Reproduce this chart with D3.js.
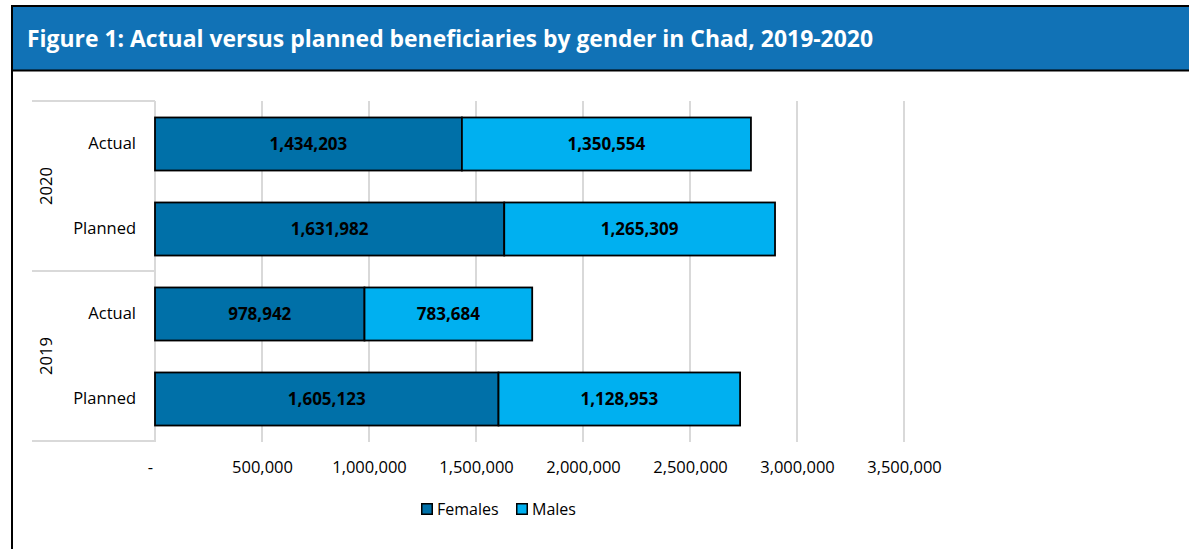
<!DOCTYPE html>
<html>
<head>
<meta charset="utf-8">
<script src="https://cdn.jsdelivr.net/npm/d3@7"></script>
<style>
  html, body { margin: 0; padding: 0; background: #fff; }
  svg { display: block; }
  text { font-family: "Open Sans", "Noto Sans", sans-serif; }
</style>
</head>
<body>
<svg id="chart" width="1189" height="549"></svg>
<script>
// ---- data ----
const titleText = "Figure 1: Actual versus planned beneficiaries by gender in Chad, 2019-2020";
const rowLabels = ["Actual", "Planned", "Actual", "Planned"];
const rowYears = ["2020", "2020", "2019", "2019"];
const years = ["2020", "2019"];
const females = [1434203, 1631982, 978942, 1605123];
const males = [1350554, 1265309, 783684, 1128953];
const seriesNames = ["Females", "Males"];
const seriesColors = ["#0070a8", "#00b0f0"];
const tickValues = [0, 500000, 1000000, 1500000, 2000000, 2500000, 3000000, 3500000];
const tickLabels = ["-", "500,000", "1,000,000", "1,500,000", "2,000,000", "2,500,000", "3,000,000", "3,500,000"];

const svg = d3.select("#chart");

// ---- frame & title ----
svg.append("rect").attr("x", 13).attr("y", 7).attr("width", 1176).attr("height", 63).attr("fill", "#1172b6");
svg.append("rect").attr("x", 11).attr("y", 5).attr("width", 1178).attr("height", 2).attr("fill", "#000");
svg.append("rect").attr("x", 11).attr("y", 69.5).attr("width", 1178).attr("height", 2).attr("fill", "#000");
svg.append("rect").attr("x", 11).attr("y", 5).attr("width", 2).attr("height", 544).attr("fill", "#000");
svg.append("text").attr("x", 27).attr("y", 47)
  .attr("fill", "#fff").attr("font-weight", "bold").attr("font-size", 23.5)
  .attr("textLength", 846).attr("lengthAdjust", "spacingAndGlyphs")
  .text(titleText);

// ---- scales ----
const plotLeft = 155, plotTop = 101, plotBottom = 441;
const x = d3.scaleLinear().domain([0, 3500000]).range([plotLeft, plotLeft + 749]);
const rows = d3.range(rowLabels.length);
const y = d3.scaleBand().domain(rows).range([plotTop, plotBottom])
  .paddingInner(0.376).paddingOuter(0.188);

// ---- gridlines ----
svg.append("g").selectAll("line").data(tickValues.filter(d => d > 0)).join("line")
  .attr("x1", d => x(d)).attr("x2", d => x(d))
  .attr("y1", plotTop).attr("y2", plotBottom + 1)
  .attr("stroke", "#d9d9d9").attr("stroke-width", 2);

// ---- category axis (vertical line + group separators) ----
const catAxis = svg.append("g");
catAxis.append("line").attr("x1", plotLeft).attr("x2", plotLeft)
  .attr("y1", plotTop).attr("y2", plotBottom + 1)
  .attr("stroke", "#d9d9d9").attr("stroke-width", 2);
const groupBounds = [plotTop, plotTop + (plotBottom - plotTop) / 2, plotBottom];
catAxis.selectAll("line.sep").data(groupBounds).join("line").attr("class", "sep")
  .attr("x1", 32).attr("x2", plotLeft)
  .attr("y1", d => d).attr("y2", d => d)
  .attr("stroke", "#d9d9d9").attr("stroke-width", 2);
catAxis.selectAll("text.row").data(rows).join("text").attr("class", "row")
  .attr("x", 136).attr("y", d => y(d) + y.bandwidth() / 2)
  .attr("dy", "0.35em").attr("text-anchor", "end")
  .attr("font-size", 16.5).attr("fill", "#000")
  .text(d => rowLabels[d]);
catAxis.selectAll("text.year").data(years).join("text").attr("class", "year")
  .attr("transform", (d, i) => {
    const idx = rowYears.map((yy, j) => yy === d ? j : -1).filter(j => j >= 0);
    const cy = (y(idx[0]) + y(idx[idx.length - 1]) + y.bandwidth()) / 2;
    return `translate(52,${cy}) rotate(-90)`;
  })
  .attr("text-anchor", "middle").attr("font-size", 16.5).attr("fill", "#000")
  .text(d => d);

// ---- value axis ----
const xAxis = d3.axisBottom(x).tickValues(tickValues)
  .tickFormat((d, i) => tickLabels[i]).tickSize(0).tickPadding(0);
const xg = svg.append("g").attr("transform", `translate(0,${plotBottom})`).call(xAxis);
xg.select(".domain").remove();
xg.selectAll("text").attr("font-family", "'Open Sans', sans-serif").attr("font-size", 16.5)
  .attr("fill", "#000").attr("y", 32).attr("dy", 0)
  .attr("dx", d => d === 0 ? -5 : 0);

// ---- stacked bars ----
const tableRows = rows.map(i => ({ row: i, Females: females[i], Males: males[i] }));
const stacked = d3.stack().keys(seriesNames)(tableRows);
const color = d3.scaleOrdinal().domain(seriesNames).range(seriesColors);

const layers = svg.append("g").selectAll("g").data(stacked).join("g")
  .attr("fill", d => color(d.key));
layers.selectAll("rect").data(d => d).join("rect")
  .attr("x", d => x(d[0])).attr("width", d => x(d[1]) - x(d[0]))
  .attr("y", d => y(d.data.row) + 0.5).attr("height", y.bandwidth())
  .attr("stroke", "#000").attr("stroke-width", 1.8);

layers.selectAll("text").data(d => d).join("text")
  .attr("x", d => (x(d[0]) + x(d[1])) / 2)
  .attr("y", d => y(d.data.row) + y.bandwidth() / 2 + 0.5)
  .attr("dy", "0.35em").attr("text-anchor", "middle")
  .attr("font-size", 17).attr("font-weight", "bold").attr("fill", "#000")
  .text(d => d3.format(",")(d[1] - d[0]));

// ---- legend ----
const legendItems = [
  { name: "Females", x: 421 },
  { name: "Males", x: 516 }
];
const lg = svg.append("g").selectAll("g").data(legendItems).join("g")
  .attr("transform", d => `translate(${d.x},503)`);
lg.append("rect").attr("x", 0.75).attr("y", 0.75).attr("width", 10.5).attr("height", 10.5)
  .attr("fill", d => color(d.name)).attr("stroke", "#000").attr("stroke-width", 1.5);
lg.append("text").attr("x", 16).attr("y", 12).attr("font-size", 16).attr("fill", "#000")
  .text(d => d.name);
</script>
</body>
</html>
